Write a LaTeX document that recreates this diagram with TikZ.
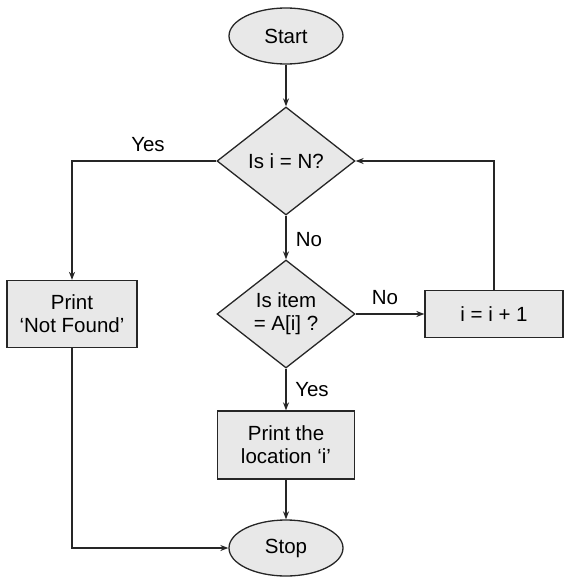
\documentclass[tikz,border=0pt]{standalone}
\usepackage{fontspec}
\setmainfont{Liberation Sans}
\usetikzlibrary{shapes.geometric,arrows.meta}
\begin{document}
\begin{tikzpicture}[x=1pt,y=-1pt,
  every node/.style={font=\fontsize{20.5}{23}\selectfont},
  base/.style={draw=black!85,line width=1.3pt,fill=gray!18,align=center,inner sep=0pt},
  term/.style={base,ellipse,minimum width=114pt,minimum height=56pt},
  decision/.style={base,diamond,minimum width=138pt,minimum height=108pt},
  proc/.style={base,rectangle,minimum width=130pt,minimum height=67pt},
  conn/.style={line width=1.3pt,draw=black!85,-{Stealth[length=8pt,width=6pt]}},
  lab/.style={inner sep=0pt}
]
\useasboundingbox (0,0) rectangle (566,586);
\node[term] (start) at (286,36) {Start};
\node[decision] (d1) at (286,161) {Is i = N?};
\node[decision] (d2) at (286,314) {Is item\\= A[i] ?};
\node[proc] (nf) at (72,314) {Print\\‘Not Found’};
\node[proc, minimum width=138pt, minimum height=47pt] (inc) at (494,314) {i = i + 1};
\node[proc, minimum width=137pt, minimum height=68pt] (loc) at (286,445) {Print the\\location ‘i’};
\node[term] (stop) at (286,548) {Stop};

\draw[conn] (start) -- (d1);
\draw[conn] (d1.west) -| (nf.north);
\draw[conn] (d1.south) -- (d2.north);
\draw[conn] (d2.east) -- (inc.west);
\draw[conn] (inc.north) |- (d1.east);
\draw[conn] (d2.south) -- (loc.north);
\draw[conn] (loc) -- (stop);
\draw[conn] (nf.south) |- (stop.west);

\node[lab] (yes1) at (148,145) {Yes};
\node[lab] (no1) at (309,240) {No};
\node[lab] (no2) at (385,298) {No};
\node[lab] (yes2) at (312,390) {Yes};
\end{tikzpicture}
\end{document}
